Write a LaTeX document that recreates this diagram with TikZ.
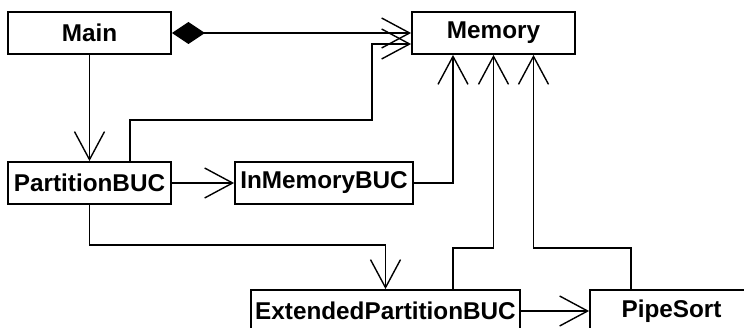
\documentclass[tikz,border=0pt]{standalone}
\usepackage{fontspec}
\setmainfont{Liberation Sans}
\usetikzlibrary{arrows.meta}
\begin{document}
\begin{tikzpicture}[x=1pt,y=-1pt,
  cls/.style={draw, line width=1.8pt, minimum height=42pt, inner sep=0pt,
    font=\fontsize{24.3}{28}\selectfont\bfseries},
  link/.style={line width=1.4pt},
  dep/.style={link, -{Straight Barb[length=28pt,width=30pt]}},
  comp/.style={link, {Diamond[length=33pt,width=22pt]}-{Straight Barb[length=28pt,width=30pt]}}]
\useasboundingbox (0,0) rectangle (744,328);
\clip (0,0) rectangle (744,328);

% classes
\node[cls, minimum width=163pt] (main)  at (89.5,33)  {Main};
\node[cls, minimum width=163pt] (mem)   at (493.5,33) {Memory};
\node[cls, minimum width=163pt] (part)  at (89.5,183) {PartitionBUC};
\node[cls, minimum width=178pt] (inmem) at (324,183)  {InMemoryBUC};
\node[cls, minimum width=269pt] (ext)   at (385.5,311) {ExtendedPartitionBUC};
\node[cls, minimum width=163pt] (pipe)  at (671.5,311) {PipeSort};

% associations
\draw[comp] (main) -- (mem);
\draw[dep] (main) -- (part);
\draw[dep] ([xshift=40.5pt]part.north) -- ++(0,-41) -- ++(242,0) |- ([yshift=-11pt]mem.west);
\draw[dep] (part) -- (inmem);
\draw[dep] (inmem.east) -| ([xshift=-40.5pt]mem.south);
\draw[dep] (part.south) -- ++(0,40) -| (ext.north);
\draw[dep] ([xshift=67.5pt]ext.north) -- ++(0,-41) -| (mem.south);
\draw[dep] ([xshift=-40.5pt]pipe.north) -- ++(0,-41) -| ([xshift=40pt]mem.south);
\draw[dep] (ext) -- (pipe);
\end{tikzpicture}
\end{document}
